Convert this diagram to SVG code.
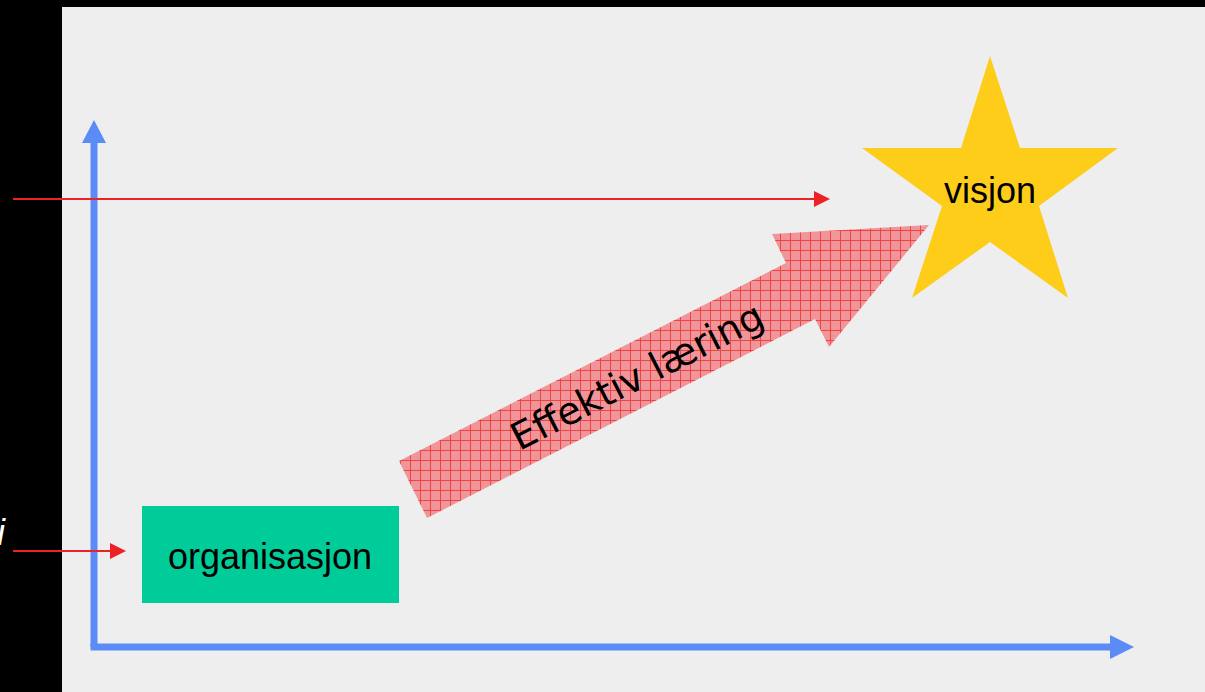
<svg xmlns="http://www.w3.org/2000/svg" width="1205" height="692" viewBox="0 0 1205 692">
  <defs>
    <style>
      .axis { stroke: #5b8bf7; stroke-width: 7; fill: none; }
      .axishead { fill: #5b8bf7; }
      .ptr { stroke: #ec2226; stroke-width: 2; fill: none; }
      .ptrhead { fill: #ec2226; }
      .label { font-family: "Liberation Sans", Arial, sans-serif; font-size: 36px; fill: #000; }
    </style>
    <pattern id="hatch" x="0" y="0" width="10" height="10" patternUnits="userSpaceOnUse">
      <rect width="10" height="10" fill="#f0969a"/>
      <path d="M0 0.5 H10 M0.5 0 V10" stroke="#ee4444" stroke-width="1"/>
    </pattern>
  </defs>

  <rect x="0" y="0" width="1205" height="692" fill="#000"/>
  <rect x="62" y="7" width="1143" height="685" fill="#eeeeee"/>

  <text x="5" y="545" font-family="'Liberation Sans', Arial, sans-serif" font-size="36" font-style="italic" fill="#fff" text-anchor="end">i</text>

  <g id="connectors">
    <line class="axis" x1="94" y1="647" x2="94" y2="142"/>
    <polygon class="axishead" points="82,143 94,120 106,143"/>
    <line class="axis" x1="90.5" y1="647" x2="1111" y2="647"/>
    <polygon class="axishead" points="1110,635 1134,647 1110,659"/>
    <line class="ptr" x1="13" y1="199" x2="815" y2="199"/>
    <polygon class="ptrhead" points="814,191 830,199 814,207"/>
    <line class="ptr" x1="13" y1="551" x2="111" y2="551"/>
    <polygon class="ptrhead" points="110,543 126,551 110,559"/>
  </g>

  <g id="effektiv-laering">
    <polygon points="399,461 786,263 772,234 929,225 829,347 815,319 427,518" fill="url(#hatch)"/>
    <text transform="translate(643,388) rotate(-27.1)" text-anchor="middle" font-family="'DejaVu Sans', Verdana, sans-serif" font-size="38" fill="#000">Effektiv læring</text>
  </g>

  <g id="organisasjon">
    <rect x="142" y="506" width="257" height="97" fill="#00cc99"/>
    <text class="label" x="270" y="569" text-anchor="middle">organisasjon</text>
  </g>

  <g id="visjon">
    <polygon points="990,56 1020,148 1118,148 1039,206 1068,298 990,242 912,298 942,206 862,148 961,148" fill="#fecd1a"/>
    <text class="label" x="990" y="203" text-anchor="middle">visjon</text>
  </g>
</svg>
